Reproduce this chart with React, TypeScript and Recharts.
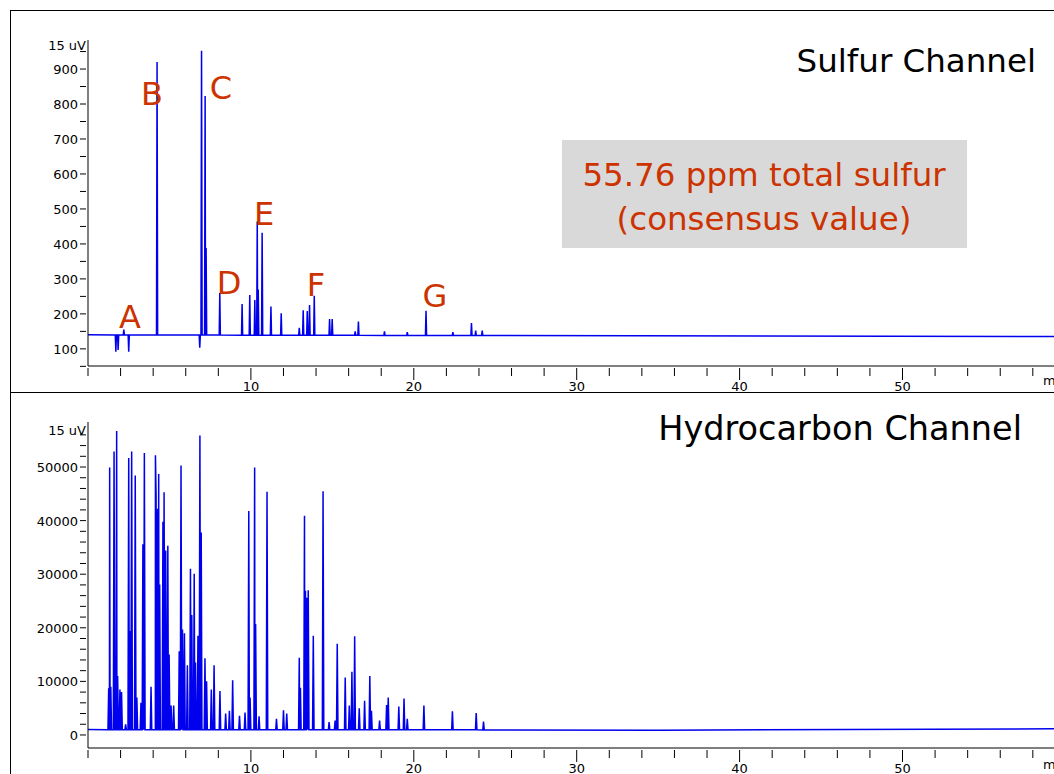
import React from 'react'
import { LineChart, Line, XAxis, YAxis } from 'recharts'

// sulfur channel peaks: [minutes, height]
const sulfurPeaks = [
  [1.71, 92], [1.85, 97], [2.5, 92], [2.2, 155], [4.24, 920], [6.86, 103], [6.97, 952],
  [7.19, 823], [7.25, 388], [8.09, 260], [9.46, 228], [9.93, 254], [10.24, 240],
  [10.39, 464], [10.45, 270], [10.69, 432], [11.23, 221], [11.86, 202], [12.97, 160],
  [13.21, 210], [13.46, 208], [13.6, 225], [13.89, 252], [14.83, 185], [14.99, 185],
  [16.4, 150], [16.6, 178], [18.2, 150], [19.6, 148], [20.75, 209], [22.4, 148],
  [23.54, 174], [23.8, 152], [24.2, 152],
]
const sulfurBase = [[0, 140], [25, 138], [59.3, 135]]

// hydrocarbon channel peaks
const hcPeaks = [
  [1.27, 8700], [1.33, 49900], [1.4, 9000], [1.6, 52900], [1.76, 56700], [1.82, 11000],
  [1.96, 8500], [2.06, 8000], [2.31, 2000], [2.5, 51700], [2.58, 19400], [2.68, 52900],
  [2.9, 48400], [3.0, 7000], [3.25, 6000], [3.37, 35600], [3.46, 52600], [3.87, 9000],
  [4.14, 52200], [4.18, 44700], [4.26, 42200], [4.34, 48700], [4.4, 28100], [4.6, 39800],
  [4.67, 45300], [4.77, 34400], [4.9, 35300], [4.98, 15000], [5.1, 5500], [5.26, 5500],
  [5.6, 15600], [5.71, 50300], [5.8, 19700], [5.92, 19000], [6.1, 13000], [6.29, 31000],
  [6.37, 22400], [6.52, 30100], [6.6, 13500], [6.75, 18500], [6.87, 55900], [6.95, 37800],
  [7.18, 14300], [7.28, 10000], [7.57, 8500], [7.74, 13000], [8.1, 8200], [8.45, 4000],
  [8.68, 4500], [8.88, 10200], [9.3, 3600], [9.64, 4200], [9.87, 41800], [9.95, 7000],
  [10.23, 49900], [10.29, 20700], [10.5, 3500], [10.99, 45400], [11.57, 3000], [12.0, 4600],
  [12.2, 4000], [12.97, 14400], [13.04, 8800], [13.29, 40900], [13.35, 26900], [13.43, 25600],
  [13.52, 27000], [13.83, 18500], [14.43, 45500], [14.8, 2400], [15.17, 2700], [15.3, 17000],
  [15.79, 10700], [16.04, 5500], [16.2, 11800], [16.37, 18400], [16.65, 5000], [16.98, 6400],
  [17.3, 11000], [17.4, 4500], [17.9, 2700], [18.33, 5600], [18.43, 7000], [19.08, 5300],
  [19.4, 6800], [19.6, 3000], [20.62, 5500], [22.37, 4400], [23.83, 4100], [24.28, 2500],
]
const hcBase = [[0, 1000], [25, 950], [35, 900], [59.3, 1150]]

const sulfurTicks = [50, 100, 150, 200, 250, 300, 350, 400, 450, 500, 550, 600, 650, 700, 750, 800, 850, 900, 950]
const sulfurLabels = [100, 200, 300, 400, 500, 600, 700, 800, 900]
const hcTicks = Array.from({ length: 29 }, (_, i) => i * 2000)
const hcLabels = [0, 10000, 20000, 30000, 40000, 50000]
const timeTicks = Array.from({ length: 30 }, (_, i) => i * 2)
const timeLabels = [10, 20, 30, 40, 50]

const baseAt = (base, t) => {
  for (let i = 1; i < base.length; i++) {
    if (t <= base[i][0]) {
      const [t0, v0] = base[i - 1]
      const [t1, v1] = base[i]
      return v0 + ((v1 - v0) * (t - t0)) / (t1 - t0)
    }
  }
  return base[base.length - 1][1]
}

const buildTrace = (peaks, base, w) => {
  const pts = base.map(([t, v]) => ({ t, v }))
  peaks.forEach(([t, h]) => {
    const b = baseAt(base, t)
    pts.push({ t: t - w, v: b }, { t, v: h }, { t: t + w, v: b })
  })
  return pts.sort((a, b) => a.t - b.t)
}

const sulfurData = buildTrace(sulfurPeaks, sulfurBase, 0.035)
const hcData = buildTrace(hcPeaks, hcBase, 0.045)

const FONT = 'DejaVu Sans'

const YTick = ({ x, y, payload, labels }) => {
  const major = labels.includes(payload.value)
  return (
    <g>
      <line x1={x} x2={x + 6} y1={y} y2={y} stroke='#000' />
      {major && (
        <text x={x - 2} y={y} dy={5} textAnchor='end' fontSize={13} fontFamily={FONT} fill='#000'>
          {payload.value}
        </text>
      )}
    </g>
  )
}

const XTick = ({ x, y, payload }) => {
  const major = timeLabels.includes(payload.value)
  return (
    <g>
      <line x1={x} x2={x} y1={y - 6} y2={y + (major ? 6 : 2)} stroke='#000' />
      {major && (
        <text x={x} y={y + 17} textAnchor='middle' fontSize={13} fontFamily={FONT} fill='#000'>
          {payload.value}
        </text>
      )}
    </g>
  )
}

const Panel = ({ data, domain, ticks, labels, top }) => (
  <div style={{ position: 'absolute', left: 10, top }}>
    <LineChart width={1044} height={382} data={data} margin={{ top: 30, right: 0, bottom: 16, left: 0 }}>
      <XAxis
        dataKey='t'
        type='number'
        domain={[0, 59.3]}
        ticks={timeTicks}
        interval={0}
        allowDataOverflow
        tickLine={false}
        stroke='#000'
        height={10}
        tick={<XTick />}
      />
      <YAxis
        type='number'
        domain={domain}
        ticks={ticks}
        interval={0}
        allowDataOverflow
        tickLine={false}
        stroke='#000'
        width={78}
        tick={<YTick labels={labels} />}
      />
      <Line dataKey='v' stroke='#0000ee' strokeWidth={1.5} dot={false} isAnimationActive={false} />
    </LineChart>
  </div>
)

const red = '#cc3300'
const letters = [
  ['A', 130, 328], ['B', 152, 105], ['C', 221, 99], ['D', 229, 294],
  ['E', 264, 225], ['F', 316, 296], ['G', 435, 307],
]

export default function App() {
  return (
    <div style={{ position: 'absolute', left: 0, top: 0, width: 1054, height: 774, background: '#fff', overflow: 'hidden' }}>
      <Panel data={sulfurData} domain={[51, 983]} ticks={sulfurTicks} labels={sulfurLabels} top={10} />
      <Panel data={hcData} domain={[-2430, 58400]} ticks={hcTicks} labels={hcLabels} top={392} />
      <svg width={1054} height={774} style={{ position: 'absolute', left: 0, top: 0, pointerEvents: 'none' }}>
        <line x1={10.5} x2={10.5} y1={10} y2={774} stroke='#000' />
        <line x1={10} x2={1054} y1={10.5} y2={10.5} stroke='#000' />
        <line x1={10} x2={1054} y1={392.5} y2={392.5} stroke='#000' />
        <text x={86} y={50} textAnchor='end' fontSize={13} fontFamily={FONT}>15 uV</text>
        <text x={86} y={435} textAnchor='end' fontSize={13} fontFamily={FONT}>15 uV</text>
        <text x={1043} y={385} fontSize={13} fontFamily={FONT}>m</text>
        <text x={1043} y={769} fontSize={13} fontFamily={FONT}>m</text>
        <text x={1036} y={72} textAnchor='end' fontSize={32.5} fontFamily={FONT}>Sulfur Channel</text>
        <text x={1022} y={440} textAnchor='end' fontSize={33.5} fontFamily={FONT}>Hydrocarbon Channel</text>
        <rect x={562} y={140} width={405} height={108} fill='#d9d9d9' />
        <text x={764} y={186} textAnchor='middle' fontSize={32.5} fontFamily={FONT} fill={red}>55.76 ppm total sulfur</text>
        <text x={764} y={230} textAnchor='middle' fontSize={32.5} fontFamily={FONT} fill={red}>(consensus value)</text>
        {letters.map(([l, x, y]) => (
          <text key={l} x={x} y={y} textAnchor='middle' fontSize={32} fontFamily={FONT} fill={red}>{l}</text>
        ))}
      </svg>
    </div>
  )
}
